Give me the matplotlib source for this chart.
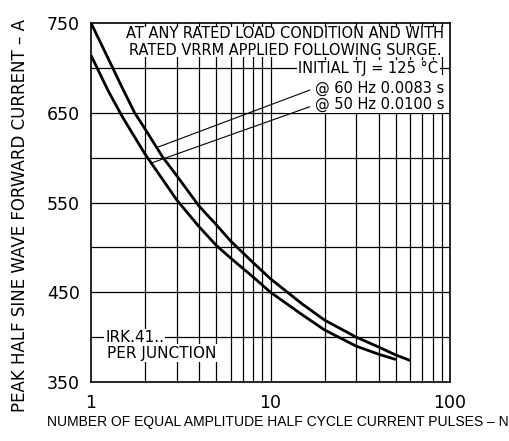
import matplotlib
matplotlib.use("Agg")
import matplotlib.pyplot as plt
from matplotlib.patches import Rectangle
from matplotlib.ticker import FixedLocator, NullFormatter

plt.rcParams['font.family'] = ['DejaVu Sans']

# surge curves
n_60hz = [1, 1.25, 1.5, 1.75, 2, 2.5, 3, 4, 5, 6, 8, 10, 15, 20, 30, 40, 50, 60]
i_60hz = [750, 710, 677, 650, 632, 601, 580, 546, 525, 507, 483, 465, 437, 419, 400, 389, 380, 374]

n_50hz = [1, 1.25, 1.5, 2, 2.5, 3, 4, 5, 6, 8, 10, 15, 20, 30, 40, 50]
i_50hz = [714, 674, 645, 604, 576, 553, 523, 502, 488, 467, 450, 425, 408, 390, 381, 375]

# where the leader lines touch the curves
lead_60 = (2.31, 611)
lead_50 = (2.17, 594)

y_ticks = [350, 450, 550, 650, 750]
y_grid = [400, 450, 500, 550, 600, 650, 700]
x_ticks = [1, 10, 100]
x_tick_labels = ['1', '10', '100']
x_minor = [2, 3, 4, 5, 6, 7, 8, 9, 20, 30, 40, 50, 60, 70, 80, 90]

fig = plt.figure(figsize=(5.1, 4.41), dpi=100)
ax = fig.add_axes([91 / 510, 1 - 382 / 441, 359 / 510, 359 / 441])

ax.set_xscale('log')
ax.set_xlim(1, 100)
ax.set_ylim(350, 750)

# grid like the printed chart
for x in x_minor + [10]:
    ax.axvline(x, color='black', lw=0.9, zorder=1)
for y in y_grid:
    ax.axhline(y, color='black', lw=0.9, zorder=1)

ax.plot(n_60hz, i_60hz, color='black', lw=2.0, zorder=4, solid_capstyle='butt')
ax.plot(n_50hz, i_50hz, color='black', lw=2.0, zorder=4, solid_capstyle='butt')

ax.set_xticks(x_ticks)
ax.set_xticklabels(x_tick_labels)
ax.xaxis.set_minor_locator(FixedLocator(x_minor))
ax.xaxis.set_minor_formatter(NullFormatter())
ax.set_yticks(y_ticks)
ax.tick_params(which='both', length=0, labelsize=12.5)
ax.tick_params(axis='y', pad=8)
ax.tick_params(axis='x', pad=9)
for s in ax.spines.values():
    s.set_linewidth(1.2)

# white boxes hiding the grid behind the notes
ax.add_patch(Rectangle((0.08, 0.905), 0.905, 0.085, transform=ax.transAxes,
                       facecolor='white', edgecolor='none', zorder=2))
ax.add_patch(Rectangle((0.54, 0.75), 0.45, 0.105, transform=ax.transAxes,
                       facecolor='white', edgecolor='none', zorder=2))

ax.text(0.54, 0.947, 'AT ANY RATED LOAD CONDITION AND WITH\nRATED VRRM APPLIED FOLLOWING SURGE.',
        transform=ax.transAxes, ha='center', va='center', fontsize=10.5,
        linespacing=1.15, zorder=5)
ax.text(0.967, 0.872, 'INITIAL TJ = 125 °C', transform=ax.transAxes,
        ha='right', va='center', fontsize=10.5, zorder=5,
        bbox=dict(facecolor='white', edgecolor='none', pad=1))

ax.annotate('@ 60 Hz 0.0083 s', xy=lead_60, xycoords='data',
            xytext=(0.985, 0.819), textcoords='axes fraction',
            ha='right', va='center', fontsize=10.5, zorder=5,
            arrowprops=dict(arrowstyle='-', color='black', lw=0.8,
                            shrinkA=2, shrinkB=0, relpos=(0, 0.5)))
ax.annotate('@ 50 Hz 0.0100 s', xy=lead_50, xycoords='data',
            xytext=(0.985, 0.772), textcoords='axes fraction',
            ha='right', va='center', fontsize=10.5, zorder=5,
            arrowprops=dict(arrowstyle='-', color='black', lw=0.8,
                            shrinkA=2, shrinkB=0, relpos=(0, 0.5)))

ax.text(0.039, 0.125, 'IRK.41..', transform=ax.transAxes, ha='left', va='center',
        fontsize=11, zorder=5, bbox=dict(facecolor='white', edgecolor='none', pad=0.5))
ax.text(0.045, 0.08, 'PER JUNCTION', transform=ax.transAxes, ha='left', va='center',
        fontsize=11, zorder=5, bbox=dict(facecolor='white', edgecolor='none', pad=1))

ax.set_xlabel('NUMBER OF EQUAL AMPLITUDE HALF CYCLE CURRENT PULSES – N',
              fontsize=10, family=['Liberation Sans'])
ax.xaxis.set_label_coords(0.52, -0.111)
ax.xaxis.label.set_va('center')
ax.set_ylabel('PEAK HALF SINE WAVE FORWARD CURRENT – A', fontsize=12)
ax.yaxis.set_label_coords(-0.198, 0.465)
ax.yaxis.label.set_va('center')

fig.savefig('out.png', dpi=100)
